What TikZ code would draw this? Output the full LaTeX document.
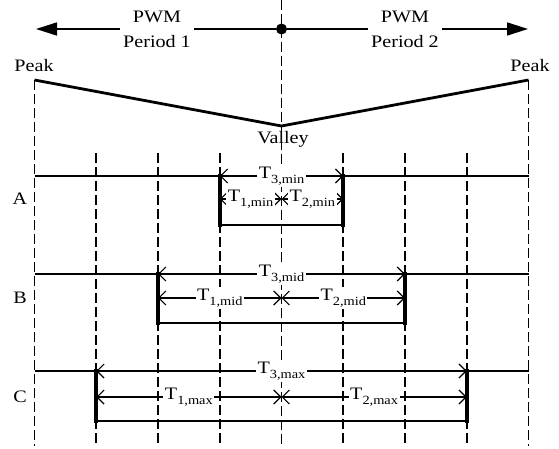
\documentclass[tikz,border=0pt]{standalone}
\usepackage{fontspec}
\setmainfont{Liberation Serif}[FakeStretch=1.15]
\usepackage{tikz}
\usetikzlibrary{arrows.meta,calc}

\newcommand{\Tsub}[2]{T\raisebox{-5pt}{\fontsize{12.5}{12.5}\selectfont #1,#2}}

\begin{document}
\begin{tikzpicture}[x=1pt,y=-1pt,>={Straight Barb[length=7pt,width=14pt]},
  font=\fontsize{17.5}{25}\selectfont,
  guide/.style={line width=1.6pt,dash pattern=on 10pt off 4pt},
  sig/.style={line width=2.6pt},
  wall/.style={line width=3.8pt,line cap=rect},
  dim/.style={<->,line width=1.2pt},
  lab/.style={fill=white,inner sep=1.5pt}]
\useasboundingbox (0,0) rectangle (559,449);
% slots of the two PWM periods
\foreach \i in {0,...,8} \coordinate (v\i) at ({34.5+61.75*\i},0);
\draw[guide] (v4) -- ++(0,446);
\draw[guide] (v0) ++(0,80) -- ++(0,366);
\draw[guide] (v8) ++(0,80) -- ++(0,366);
\foreach \i in {1,2,3,5,6,7} \draw[guide] (v\i) ++(0,153) -- ++(0,293);

% period arrows
\coordinate (tipL) at (36,29);
\coordinate (tipR) at (528,29);
\node[circle,fill,inner sep=0pt,minimum size=11pt] (mid) at (281.5,29) {};
\draw[-{Triangle[length=21pt,width=13pt]},line width=1.6pt] (mid) -- (tipL);
\draw[-{Triangle[length=21pt,width=13pt]},line width=1.6pt] (mid) -- (tipR);
\node[lab,inner sep=3.5pt,align=center] (per1) at (157,29) {PWM\\Period 1};
\node[lab,inner sep=3.5pt,align=center] (per2) at (405,29) {PWM\\Period 2};

% carrier
\coordinate (peakL) at (34.5,80);
\coordinate (valley) at (281.5,126);
\coordinate (peakR) at (528.5,80);
\draw[line width=2.8pt] (peakL) -- (valley) -- (peakR);
\node (pkL) at (34,66) {Peak};
\node (pkR) at (530,66) {Peak};
\node (vly) at (283,139) {Valley};

% switching states
\foreach \nm/\yh/\yl/\ym/\l/\r/\sb in {A/176/225/199/3/5/min,B/274/323/298/2/6/mid,C/371/421/397/1/7/max}{
  \coordinate (\nm hl) at (v\l |- 0,\yh);
  \coordinate (\nm hr) at (v\r |- 0,\yh);
  \coordinate (\nm ll) at (v\l |- 0,\yl);
  \coordinate (\nm lr) at (v\r |- 0,\yl);
  \coordinate (\nm ml) at (v\l |- 0,\ym);
  \coordinate (\nm mc) at (v4 |- 0,\ym);
  \coordinate (\nm mr) at (v\r |- 0,\ym);
  \draw[sig] (v0 |- 0,\yh) -- (\nm hl) (\nm ll) -- (\nm lr) (\nm hr) -- (v8 |- 0,\yh);
  \draw[wall] (\nm hl) -- (\nm ll);
  \draw[wall] (\nm hr) -- (\nm lr);
  \draw[dim] (\nm hl) -- node[lab] (\nm t3) {\Tsub{3}{\sb}} (\nm hr);
  \draw[dim] (\nm ml) -- node[lab] (\nm t1) {\Tsub{1}{\sb}} (\nm mc);
  \draw[dim] (\nm mc) -- node[lab] (\nm t2) {\Tsub{2}{\sb}} (\nm mr);
  \node (\nm name) at (20,\ym) {\nm};
}
\end{tikzpicture}
\end{document}
